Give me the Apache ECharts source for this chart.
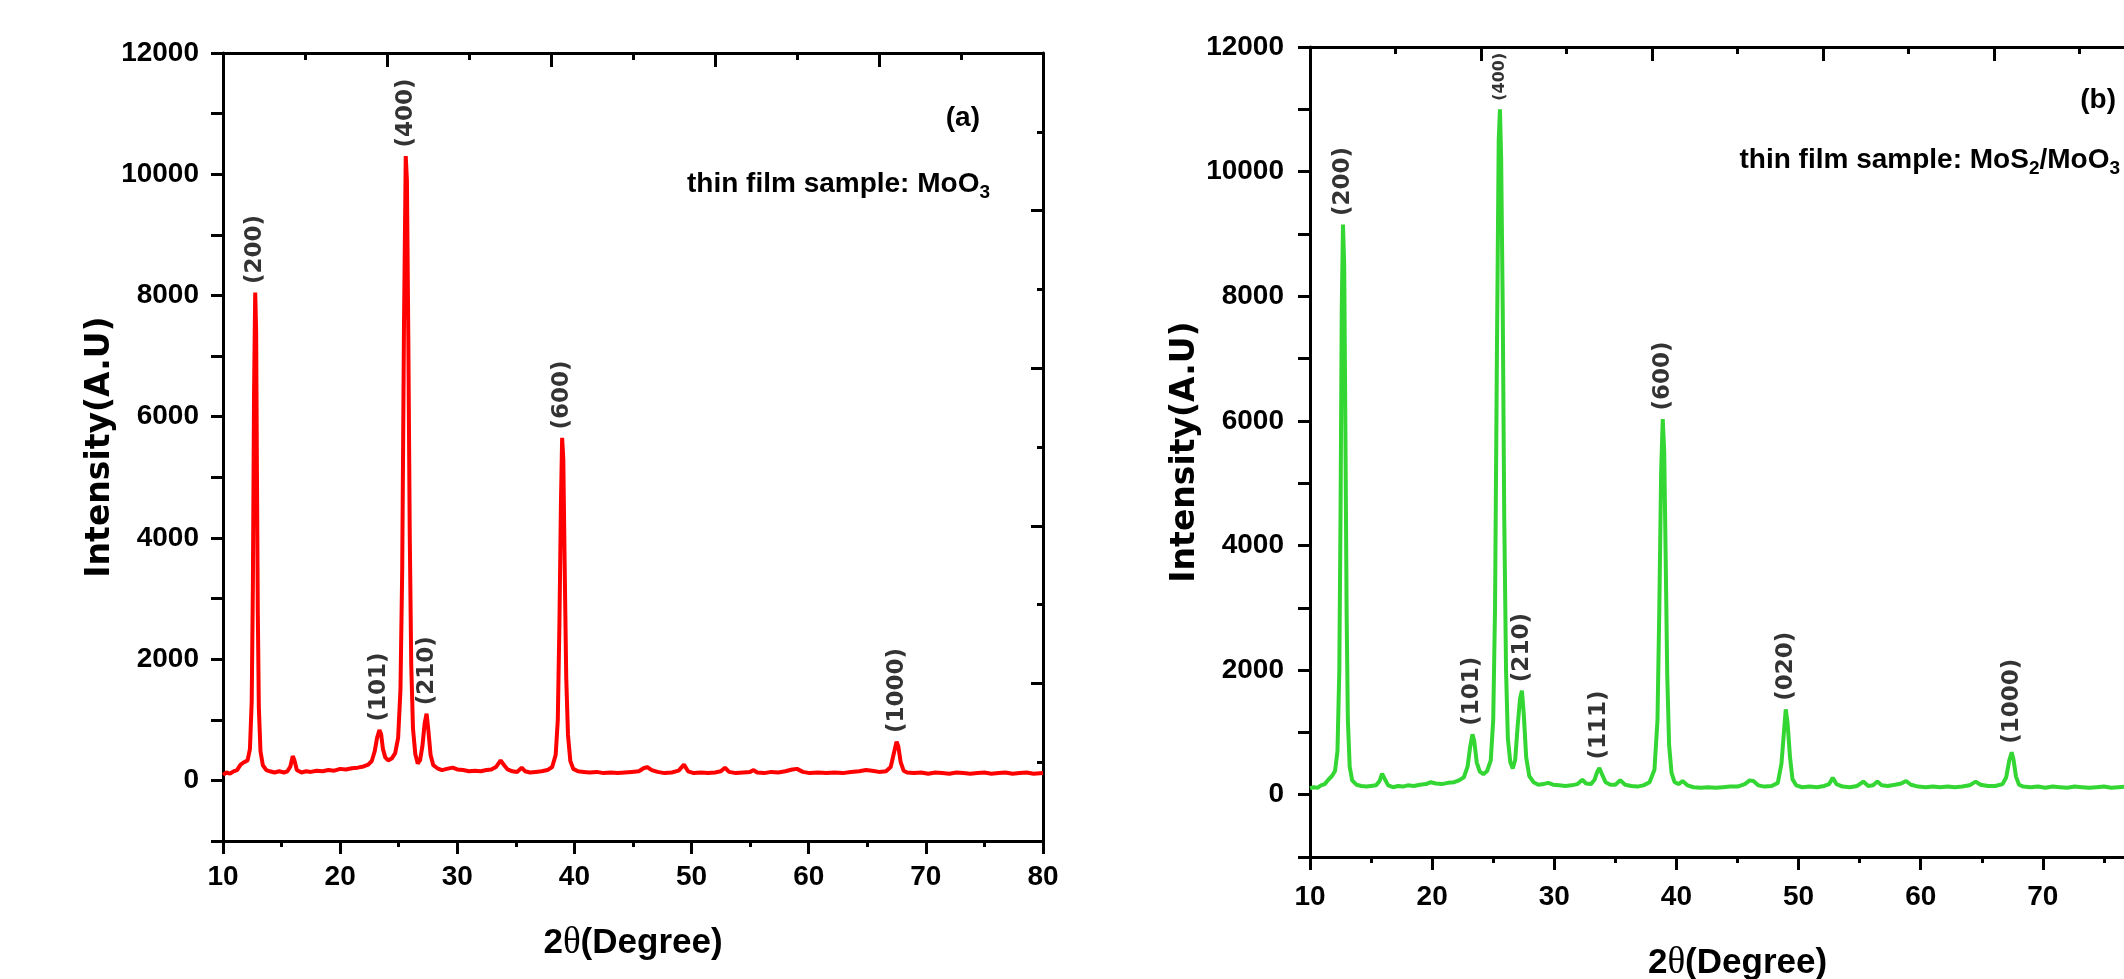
<!DOCTYPE html>
<html>
<head>
<meta charset="utf-8">
<title>XRD patterns of MoO3 and MoS2/MoO3 thin films</title>
<script src="https://cdn.jsdelivr.net/npm/echarts@6/dist/echarts.min.js"></script>
<style>
  html, body { margin: 0; padding: 0; background: #fff; }
  #chart { width: 2124px; height: 979px; }
</style>
</head>
<body>
<div id="chart"></div>
<script>
// (a) thin film sample: MoO3
const thetaA = [10.0, 10.3, 10.6, 10.9, 11.2, 11.5, 11.8, 12.1, 12.3, 12.45, 12.55, 12.65, 12.75, 12.83, 12.9, 12.97, 13.06, 13.2, 13.4, 13.7,
  14.0, 14.4, 14.8, 15.2, 15.5, 15.75, 15.95, 16.1, 16.3, 16.7, 17.1, 17.5, 18.0, 18.5, 19.0, 19.5, 20.0, 20.5, 21.0, 21.5,
  22.0, 22.4, 22.7, 22.95, 23.15, 23.35, 23.5, 23.65, 23.85, 24.1, 24.4, 24.7, 24.95, 25.15, 25.3, 25.45, 25.6, 25.7, 25.82, 25.94,
  26.07, 26.22, 26.42, 26.62, 26.82, 27.02, 27.22, 27.38, 27.52, 27.72, 27.95, 28.3, 28.7, 29.1, 29.6, 30.0, 30.5, 31.0, 31.5, 32.0,
  32.5, 32.9, 33.3, 33.7, 34.0, 34.3, 34.7, 35.1, 35.5, 35.8, 36.2, 36.7, 37.2, 37.7, 38.1, 38.4, 38.58, 38.72, 38.85, 38.95,
  39.05, 39.17, 39.3, 39.45, 39.65, 39.9, 40.3, 40.8, 41.3, 41.9, 42.5, 43.1, 43.7, 44.3, 44.9, 45.5, 45.9, 46.2, 46.6, 47.1,
  47.7, 48.3, 48.9, 49.35, 49.7, 50.2, 50.8, 51.4, 52.0, 52.5, 52.85, 53.2, 53.8, 54.4, 55.0, 55.3, 55.6, 56.2, 56.8, 57.4,
  58.0, 58.6, 59.0, 59.5, 60.1, 60.8, 61.5, 62.2, 62.9, 63.6, 64.3, 64.9, 65.4, 66.0, 66.6, 67.0, 67.25, 67.5, 67.65, 67.85,
  68.1, 68.4, 69.0, 69.6, 70.2, 70.8, 71.4, 72.0, 72.6, 73.2, 73.8, 74.4, 75.0, 75.6, 76.2, 76.8, 77.4, 78.0, 78.6, 79.2, 80.0];
const countsA = [90, 130, 110, 150, 170, 260, 300, 330, 520, 1300, 3200, 6400, 8050, 7400, 5000, 2800, 1200, 480, 250, 170,
  150, 130, 150, 130, 150, 230, 400, 330, 170, 130, 150, 140, 160, 150, 170, 160, 190, 180, 200, 210,
  230, 260, 320, 480, 700, 830, 760, 520, 380, 330, 360, 450, 700, 1500, 3500, 7500, 10300, 9900, 7300, 4100,
  1900, 850, 430, 280, 330, 560, 950, 1100, 850, 420, 250, 200, 170, 190, 210, 180, 170, 150, 160, 150,
  170, 180, 220, 330, 250, 180, 150, 140, 210, 150, 130, 140, 150, 170, 220, 420, 1000, 2600, 4600, 5650,
  5300, 3500, 1700, 750, 320, 190, 150, 140, 130, 140, 120, 130, 120, 130, 140, 150, 200, 220, 170, 140,
  120, 130, 160, 260, 150, 120, 130, 120, 130, 150, 210, 140, 120, 130, 140, 170, 130, 120, 140, 130,
  150, 180, 190, 140, 120, 130, 120, 130, 120, 140, 150, 170, 160, 140, 150, 220, 430, 640, 560, 300,
  160, 130, 120, 130, 110, 130, 120, 110, 130, 120, 110, 120, 130, 110, 120, 130, 110, 120, 130, 110, 120];
const peakNamesA = ['(200)', '(101)', '(400)', '(210)', '(600)', '(1000)'];
const peakThetaA = [12.75, 23.35, 25.6, 27.38, 38.95, 67.5];
const peakTopA = [8050, 830, 10300, 1100, 5650, 640];

// (b) thin film sample: MoS2/MoO3
const thetaB = [10.0, 10.3, 10.6, 10.9, 11.2, 11.5, 11.8, 12.05, 12.25, 12.4, 12.5, 12.6, 12.7, 12.8, 12.9, 13.0, 13.1, 13.25, 13.45, 13.8,
  14.2, 14.6, 15.0, 15.4, 15.7, 15.9, 16.1, 16.4, 16.8, 17.2, 17.6, 18.0, 18.5, 19.0, 19.5, 19.9, 20.3, 20.8, 21.3, 21.8,
  22.2, 22.6, 22.9, 23.1, 23.3, 23.45, 23.65, 23.9, 24.2, 24.5, 24.8, 25.0, 25.15, 25.3, 25.45, 25.55, 25.65, 25.78, 25.9, 26.05,
  26.2, 26.4, 26.6, 26.8, 27.0, 27.2, 27.35, 27.5, 27.7, 27.95, 28.3, 28.7, 29.1, 29.5, 29.9, 30.4, 30.9, 31.4, 31.9, 32.3,
  32.6, 33.0, 33.3, 33.5, 33.7, 33.9, 34.2, 34.6, 35.0, 35.4, 35.8, 36.3, 36.8, 37.3, 37.8, 38.2, 38.45, 38.6, 38.75, 38.88,
  39.0, 39.12, 39.25, 39.4, 39.6, 39.85, 40.2, 40.5, 40.9, 41.4, 42.0, 42.6, 43.2, 43.8, 44.4, 45.0, 45.6, 46.0, 46.3, 46.7,
  47.2, 47.8, 48.3, 48.6, 48.8, 48.95, 49.1, 49.3, 49.5, 49.8, 50.3, 50.9, 51.5, 52.1, 52.5, 52.8, 53.1, 53.6, 54.2, 54.8,
  55.3, 55.7, 56.1, 56.45, 56.8, 57.3, 57.9, 58.4, 58.8, 59.2, 59.8, 60.4, 61.0, 61.6, 62.2, 62.8, 63.4, 64.0, 64.5, 64.9,
  65.5, 66.1, 66.7, 67.0, 67.25, 67.45, 67.6, 67.8, 68.05, 68.4, 69.0, 69.6, 70.2, 70.8, 71.4, 72.0, 72.6, 73.2, 73.8, 74.4,
  75.0, 75.6, 76.2, 76.8, 77.4, 78.0, 78.6, 79.2, 80.0];
const countsB = [100, 120, 110, 150, 170, 240, 300, 380, 700, 2000, 4500, 7800, 9150, 8500, 5800, 2900, 1200, 450, 230, 160,
  140, 130, 140, 150, 220, 340, 260, 150, 120, 140, 130, 150, 140, 160, 170, 200, 180, 170, 190, 200,
  230, 280, 450, 750, 970, 860, 520, 370, 330, 380, 550, 1200, 3000, 7000, 10500, 11000, 10200, 7800, 4500, 2000,
  900, 520, 420, 560, 1100, 1550, 1670, 1300, 600, 300, 200, 160, 170, 190, 160, 150, 140, 150, 170, 240,
  180, 170, 240, 360, 430, 330, 200, 160, 160, 230, 160, 140, 130, 150, 200, 400, 1200, 3000, 5200, 6030,
  5500, 3800, 1900, 800, 350, 200, 170, 220, 150, 120, 110, 120, 110, 120, 130, 130, 170, 230, 220, 150,
  130, 140, 190, 500, 1000, 1370, 1150, 600, 250, 150, 120, 130, 120, 140, 170, 270, 170, 130, 120, 140,
  210, 140, 150, 210, 150, 140, 160, 180, 220, 160, 130, 120, 130, 120, 130, 120, 130, 150, 210, 160,
  140, 140, 170, 280, 550, 680, 560, 290, 160, 130, 120, 130, 110, 130, 120, 110, 130, 120, 110, 120,
  130, 110, 120, 130, 110, 120, 130, 110, 120];
const peakNamesB = ['(200)', '(101)', '(400)', '(210)', '(111)', '(600)', '(020)', '(1000)'];
const peakThetaB = [12.7, 23.3, 25.55, 27.35, 33.7, 38.88, 48.95, 67.45];
const peakTopB = [9150, 970, 11000, 1670, 430, 6030, 1370, 680];

const FONT = '"Liberation Sans", Arial, Helvetica, sans-serif';
const WIDE = '"DejaVu Sans", "Liberation Sans", sans-serif';
const BLACK = '#000';

function xAxes(gi, nameGap, labelMargin) {
  return [
    {
      gridIndex: gi, type: 'value', position: 'bottom', min: 10, max: 80, interval: 10,
      axisLine: { onZero: false, lineStyle: { color: BLACK, width: 3 } },
      axisTick: { length: 13, lineStyle: { color: BLACK, width: 3 } },
      minorTick: { show: true, splitNumber: 2, length: 6, lineStyle: { color: BLACK, width: 3 } },
      splitLine: { show: false },
      axisLabel: { color: BLACK, fontFamily: FONT, fontWeight: 'bold', fontSize: 28, margin: labelMargin },
      name: '2{t|θ}(Degree)', nameLocation: 'middle', nameGap: nameGap,
      nameTextStyle: {
        color: BLACK, fontFamily: FONT, fontWeight: 'bold', fontSize: 35,
        rich: { t: { fontFamily: '"Liberation Serif", "DejaVu Serif", serif', fontWeight: 'normal', fontSize: 37, color: BLACK } }
      }
    },
    {
      // frame top: plain ticks, ten divisions
      gridIndex: gi, type: 'value', position: 'top', min: 0, max: 10, interval: 2,
      axisLine: { onZero: false, lineStyle: { color: BLACK, width: 3 } },
      axisTick: { inside: true, length: 14, lineStyle: { color: BLACK, width: 3 } },
      minorTick: { show: true, splitNumber: 2, length: 7, lineStyle: { color: BLACK, width: 3 } },
      splitLine: { show: false },
      axisLabel: { show: false }
    }
  ];
}

function yAxes(gi, nameGap, labelMargin) {
  return [
    {
      gridIndex: gi, type: 'value', position: 'left', min: -1000, max: 12000, interval: 1000,
      axisLine: { onZero: false, lineStyle: { color: BLACK, width: 3 } },
      axisTick: { length: 12, lineStyle: { color: BLACK, width: 3 } },
      splitLine: { show: false },
      axisLabel: {
        color: BLACK, fontFamily: FONT, fontWeight: 'bold', fontSize: 28, margin: labelMargin,
        formatter: v => (v >= 0 && v % 2000 === 0) ? String(v) : ''
      },
      name: 'Intensity(A.U)', nameLocation: 'middle', nameGap: nameGap,
      nameTextStyle: { color: BLACK, fontFamily: WIDE, fontWeight: 'bold', fontSize: 33 }
    },
    {
      gridIndex: gi, type: 'value', position: 'right', min: 0, max: 10, interval: 2,
      axisLine: { onZero: false, lineStyle: { color: BLACK, width: 3 } },
      axisTick: { inside: true, length: 12, lineStyle: { color: BLACK, width: 3 } },
      minorTick: { show: true, splitNumber: 2, length: 6, lineStyle: { color: BLACK, width: 3 } },
      splitLine: { show: false },
      axisLabel: { show: false }
    }
  ];
}

function pattern(axisIndex, theta, counts, color) {
  return {
    type: 'line', xAxisIndex: axisIndex, yAxisIndex: axisIndex,
    data: theta.map((t, i) => [t, counts[i]]),
    showSymbol: false, silent: true,
    lineStyle: { color: color, width: 4 },
    itemStyle: { color: color }
  };
}

function peakLabels(axisIndex, names, theta, tops) {
  return {
    type: 'scatter', xAxisIndex: axisIndex, yAxisIndex: axisIndex,
    symbolSize: 1, silent: true, z: 5,
    itemStyle: { color: 'rgba(0,0,0,0)' },
    data: names.map((n, i) => {
      const item = { name: n, value: [theta[i], tops[i]] };
      // the tallest peak label is squeezed under the frame
      if (tops[i] > 10500) item.label = { fontSize: 16 };
      return item;
    }),
    label: {
      show: true, position: 'top', distance: 5, offset: [3, 0], rotate: 90,
      align: 'left', verticalAlign: 'middle', formatter: '{b}',
      color: BLACK, fontFamily: WIDE, fontWeight: 'bold', fontSize: 23
    }
  };
}

function noteText(text, right, top, size) {
  return {
    type: 'text', right: right, top: top, z: 10,
    style: {
      text: text, fill: BLACK, fontFamily: FONT, fontWeight: 'bold', fontSize: size, lineHeight: 36,
      rich: { s: { fontFamily: FONT, fontWeight: 'bold', fontSize: 19, lineHeight: 12, verticalAlign: 'bottom', fill: BLACK } }
    }
  };
}

const chart = echarts.init(document.getElementById('chart'), null, { renderer: 'canvas' });

chart.setOption({
  animation: false,
  backgroundColor: '#fff',
  grid: [
    { left: 223, top: 53, width: 820, height: 788, containLabel: false, outerBoundsMode: 'none' },
    { left: 1310, top: 47, width: 855, height: 810, containLabel: false, outerBoundsMode: 'none' }
  ],
  xAxis: [...xAxes(0, 84, 22), ...xAxes(1, 88, 26)],
  yAxis: [...yAxes(0, 104, 24), ...yAxes(1, 108, 26)],
  series: [
    pattern(0, thetaA, countsA, '#ff0000'),
    peakLabels(0, peakNamesA, peakThetaA, peakTopA),
    pattern(2, thetaB, countsB, '#33d633'),
    peakLabels(2, peakNamesB, peakThetaB, peakTopB)
  ],
  graphic: [
    noteText('(a)', 2124 - 980, 100, 28),
    noteText('thin film sample: MoO{s|3}', 2124 - 990, 166, 28),
    noteText('(b)', 2124 - 2116, 82, 28),
    noteText('thin film sample: MoS{s|2}/MoO{s|3}', 2124 - 2120, 142, 28)
  ]
});

window.addEventListener('resize', () => chart.resize());
</script>
</body>
</html>
